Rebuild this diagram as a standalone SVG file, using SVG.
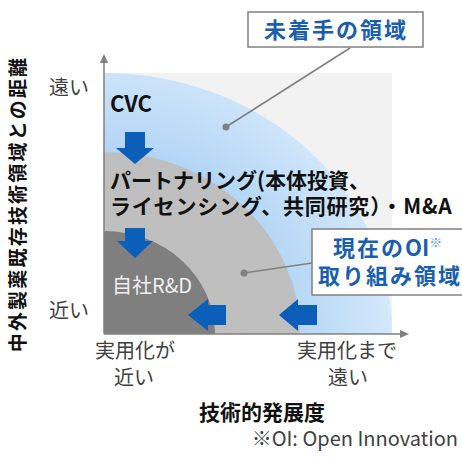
<svg xmlns="http://www.w3.org/2000/svg" width="462" height="458" viewBox="0 0 462 458">
<style>
text{font-family:"Noto Sans CJK JP","Noto Sans",sans-serif}
.lab{fill:#404040;font-size:20px}
.bold{font-weight:bold;fill:#111}
.callout{fill:#1a5fad;font-weight:bold;font-size:22px;letter-spacing:2px}
.box{fill:#fff;stroke:#808080;stroke-width:1.5}
.lead{stroke:#808080;stroke-width:1.5;fill:none}
.dot{fill:#808080}
.arr{fill:#0b5fb8}
.axis{stroke:#808080;stroke-width:1.5}
</style>
<defs>
<radialGradient id="bl" gradientUnits="userSpaceOnUse" cx="104" cy="334" r="290">
<stop offset="0.55" stop-color="#acd1f4"/>
<stop offset="1" stop-color="#d4e9fc"/>
</radialGradient>
</defs>
<g id="plot">
<rect x="104" y="73" width="288" height="261" fill="#f2f2f2"/>
<path id="zone-untouched" d="M104,334 L104,73 A288,261 0 0 1 392,334 Z" fill="url(#bl)"/>
<path id="zone-current" d="M104,334 L104,152 A196,182 0 0 1 300,334 Z" fill="#bfbfbf"/>
<path id="zone-rd" d="M104,334 L104,231 A111,103 0 0 1 215,334 Z" fill="#7f7f7f"/>
</g>
<g id="axes">
<line class="axis" x1="104" y1="334" x2="104" y2="62"/>
<polygon points="104,54 100,63 108,63" fill="#808080"/>
<line class="axis" x1="104" y1="334" x2="400" y2="334"/>
<polygon points="409,334 400,330 400,338" fill="#808080"/>
</g>
<g id="connectors">
<polygon class="arr" points="125,132 145,132 145,148 154,148 135,164 116,148 125,148"/>
<polygon class="arr" points="125,228 145,228 145,241 153,241 135,258 117,241 125,241"/>
<polygon class="arr" points="188,315 208,299 208,305 226,305 226,325 208,325 208,331"/>
<polygon class="arr" points="279,315 298,299 298,305 317,305 317,325 298,325 298,331"/>
<line class="lead" x1="350" y1="48" x2="226" y2="127"/>
<circle class="dot" cx="226" cy="127" r="3.5"/>
<line class="lead" x1="312" y1="263" x2="244" y2="273"/>
<circle class="dot" cx="244" cy="273" r="3.5"/>
</g>
<g id="node-cvc"><text class="bold" x="110" y="112" font-size="22">CVC</text></g>
<g id="node-partnering">
<text class="bold" x="110" y="188" font-size="21">パートナリング(本体投資、</text>
<text class="bold" x="110" y="214" font-size="21" letter-spacing="0.8">ライセンシング、共同研究）・M&amp;A</text>
</g>
<g id="node-rd"><text x="112" y="293" font-size="20" fill="#f0f0f0">自社R&amp;D</text></g>
<g id="callout-untouched">
<rect class="box" x="248" y="12" width="175" height="35"/>
<text class="callout" x="336" y="38" text-anchor="middle">未着手の領域</text>
</g>
<g id="callout-current">
<rect class="box" x="312" y="229" width="160" height="66"/>
<text class="callout" x="333" y="256">現在の<tspan letter-spacing="0">OI</tspan><tspan font-size="13" dy="-9" fill="#5b9bd5" letter-spacing="0">※</tspan></text>
<text class="callout" x="390" y="284" text-anchor="middle">取り組み領域</text>
</g>
<g id="labels">
<text class="bold" transform="translate(25,204) rotate(-90)" text-anchor="middle" font-size="19" letter-spacing="2.2">中外製薬既存技術領域との距離</text>
<text class="lab" x="49" y="95">遠い</text>
<text class="lab" x="49" y="318">近い</text>
<text class="lab" x="135" y="358" text-anchor="middle">実用化が</text>
<text class="lab" x="134" y="385" text-anchor="middle">近い</text>
<text class="lab" x="347" y="358" text-anchor="middle">実用化まで</text>
<text class="lab" x="348" y="385" text-anchor="middle">遠い</text>
<text class="bold" x="262" y="420" text-anchor="middle" font-size="21">技術的発展度</text>
<text class="lab" x="458" y="446" text-anchor="end" font-size="18">※OI: Open Innovation</text>
</g>
</svg>
